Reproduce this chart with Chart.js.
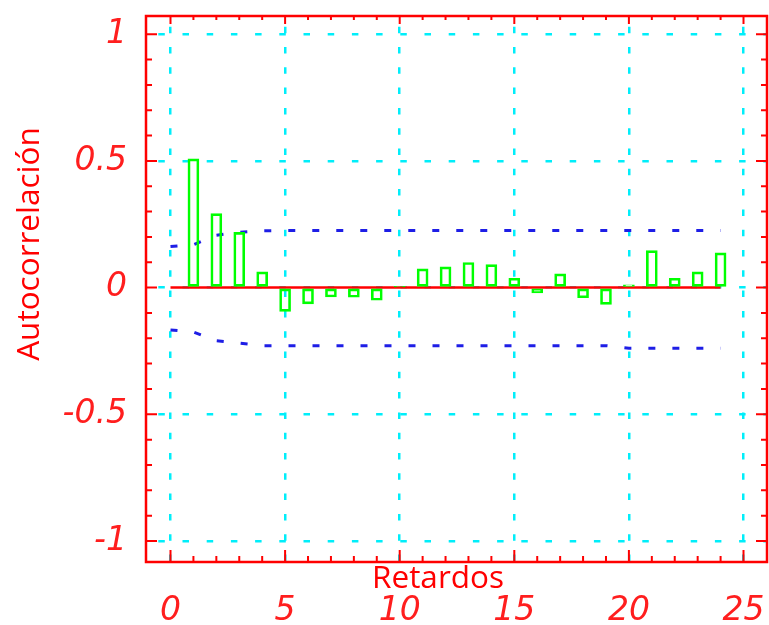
<!DOCTYPE html>
<html>
<head>
<meta charset="utf-8">
<script src="https://cdn.jsdelivr.net/npm/chart.js@4.4.0/dist/chart.umd.min.js"></script>
<style>
  html, body { margin: 0; padding: 0; background: #ffffff; overflow: hidden; }
  #wrap { width: 769px; height: 625px; }
</style>
</head>
<body>
<div id="wrap"><canvas id="acf" width="769" height="625"></canvas></div>
<script>
// Sample autocorrelation by lag
const lags = [1, 2, 3, 4, 5, 6, 7, 8, 9, 10, 11, 12, 13, 14, 15, 16, 17, 18, 19, 20, 21, 22, 23, 24];
const acfValues = [0.508, 0.292, 0.218, 0.062, -0.094, -0.064, -0.037, -0.038, -0.050, 0.003,
                   0.074, 0.082, 0.099, 0.091, 0.037, -0.021, 0.054, -0.040, -0.066, 0.011,
                   0.146, 0.037, 0.062, 0.137];

// Confidence band limits
const bandLags = [0, 1, 2, 3, 4, 5, 6, 7, 8, 9, 10, 11, 12, 13, 14, 15, 16, 17, 18, 19, 20, 21, 22, 23, 24];
const upperBand = [0.162, 0.169, 0.207, 0.218, 0.224, 0.225, 0.225, 0.225, 0.225, 0.225,
                   0.225, 0.225, 0.225, 0.225, 0.225, 0.225, 0.225, 0.225, 0.225, 0.225,
                   0.225, 0.225, 0.225, 0.225, 0.225];
const lowerBand = [-0.167, -0.175, -0.210, -0.219, -0.229, -0.229, -0.229, -0.229, -0.229, -0.229,
                   -0.229, -0.229, -0.229, -0.229, -0.229, -0.229, -0.229, -0.229, -0.229, -0.229,
                   -0.239, -0.239, -0.239, -0.239, -0.239];

// Zero reference line
const zeroLineLags = [0, 24];
const zeroLineValues = [0, 0];

// Axis ticks
const xTickValues = [0, 5, 10, 15, 20, 25];
const yTickValues = [-1, -0.5, 0, 0.5, 1];
const yTickLabels = ['-1', '-0.5', '0', '0.5', '1'];

const RED = '#ff0000';
const LABEL_RED = 'rgb(255,30,30)';
const CYAN = 'rgb(0,238,250)';
const GREEN = '#00ff00';
const BLUE = '#1e1ee6';

const tickFont = { family: '"DejaVu Sans"', style: 'italic', size: 33 };

const toPoints = (xs, ys) => xs.map((v, i) => ({ x: v, y: ys[i] }));

// Frame, inward tick marks and axis titles
const framePlugin = {
  id: 'acfFrame',
  afterDraw(chart) {
    const { ctx, chartArea: a, scales: { x, y } } = chart;
    ctx.save();
    ctx.strokeStyle = RED;
    ctx.lineWidth = 2;
    ctx.beginPath();
    for (let v = 0; v <= 25; v++) {
      const px = x.getPixelForValue(v);
      const major = v % 5 === 0;
      const lb = major ? 12 : 6;
      const lt = major ? 8 : 4;
      ctx.moveTo(px, a.bottom); ctx.lineTo(px, a.bottom - lb);
      ctx.moveTo(px, a.top); ctx.lineTo(px, a.top + lt);
    }
    for (let k = -10; k <= 10; k++) {
      const py = y.getPixelForValue(k / 10);
      const len = k % 5 === 0 ? 11 : 6;
      ctx.moveTo(a.left, py); ctx.lineTo(a.left + len, py);
      ctx.moveTo(a.right, py); ctx.lineTo(a.right - len, py);
    }
    ctx.stroke();

    ctx.lineWidth = 2.5;
    ctx.strokeRect(a.left, a.top, a.right - a.left, a.bottom - a.top);

    ctx.fillStyle = RED;
    ctx.font = '31.5px "Open Sans"';
    ctx.textAlign = 'center';
    ctx.textBaseline = 'alphabetic';
    ctx.fillText('Retardos', a.left + 292, 588);
    ctx.translate(39, a.top + 228);
    ctx.rotate(-Math.PI / 2);
    ctx.fillText('Autocorrelación', 0, 0);
    ctx.restore();
  }
};

new Chart(document.getElementById('acf'), {
  type: 'bar',
  data: {
    datasets: [
      {
        type: 'bar',
        data: toPoints(lags, acfValues),
        backgroundColor: 'rgba(0,0,0,0)',
        borderColor: GREEN,
        borderWidth: 2,
        borderSkipped: false,
        barThickness: 11,
        order: 0
      },
      {
        type: 'line',
        data: toPoints(zeroLineLags, zeroLineValues),
        borderColor: RED,
        borderWidth: 2.5,
        pointRadius: 0,
        order: 1
      },
      {
        type: 'line',
        data: toPoints(bandLags, upperBand),
        borderColor: BLUE,
        borderWidth: 3,
        borderDash: [7, 17],
        pointRadius: 0,
        tension: 0,
        order: 2
      },
      {
        type: 'line',
        data: toPoints(bandLags, lowerBand),
        borderColor: BLUE,
        borderWidth: 3,
        borderDash: [7, 17],
        pointRadius: 0,
        tension: 0,
        order: 2
      }
    ]
  },
  options: {
    responsive: false,
    animation: false,
    devicePixelRatio: 1,
    layout: { padding: { top: 16, right: 2, bottom: 0, left: 0 } },
    plugins: { legend: { display: false }, tooltip: { enabled: false }, title: { display: false } },
    scales: {
      x: {
        type: 'linear',
        min: -1.069,
        max: 26.025,
        offset: false,
        afterBuildTicks: s => { s.ticks = xTickValues.map(v => ({ value: v })); },
        afterFit: s => { s.height = 63; s.paddingLeft = 0; s.paddingRight = 0; },
        grid: { offset: false, color: CYAN, lineWidth: 2.5, drawTicks: false },
        border: { display: false, dash: [6.5, 13.8], dashOffset: 9.6 },
        ticks: {
          font: tickFont, color: LABEL_RED, padding: 30,
          maxRotation: 0, autoSkip: false,
          callback: v => String(v)
        }
      },
      y: {
        type: 'linear',
        min: -1.083,
        max: 1.072,
        afterBuildTicks: s => { s.ticks = yTickValues.map(v => ({ value: v })); },
        afterFit: s => { s.width = 146; s.paddingTop = 0; s.paddingBottom = 0; },
        grid: { color: CYAN, lineWidth: 2.5, drawTicks: false },
        border: { display: false, dash: [6.5, 17.7], dashOffset: 11.9 },
        ticks: {
          font: tickFont, color: LABEL_RED, padding: 19, autoSkip: false,
          callback: (v, i) => yTickLabels[i]
        }
      }
    }
  },
  plugins: [framePlugin]
});
</script>
</body>
</html>
